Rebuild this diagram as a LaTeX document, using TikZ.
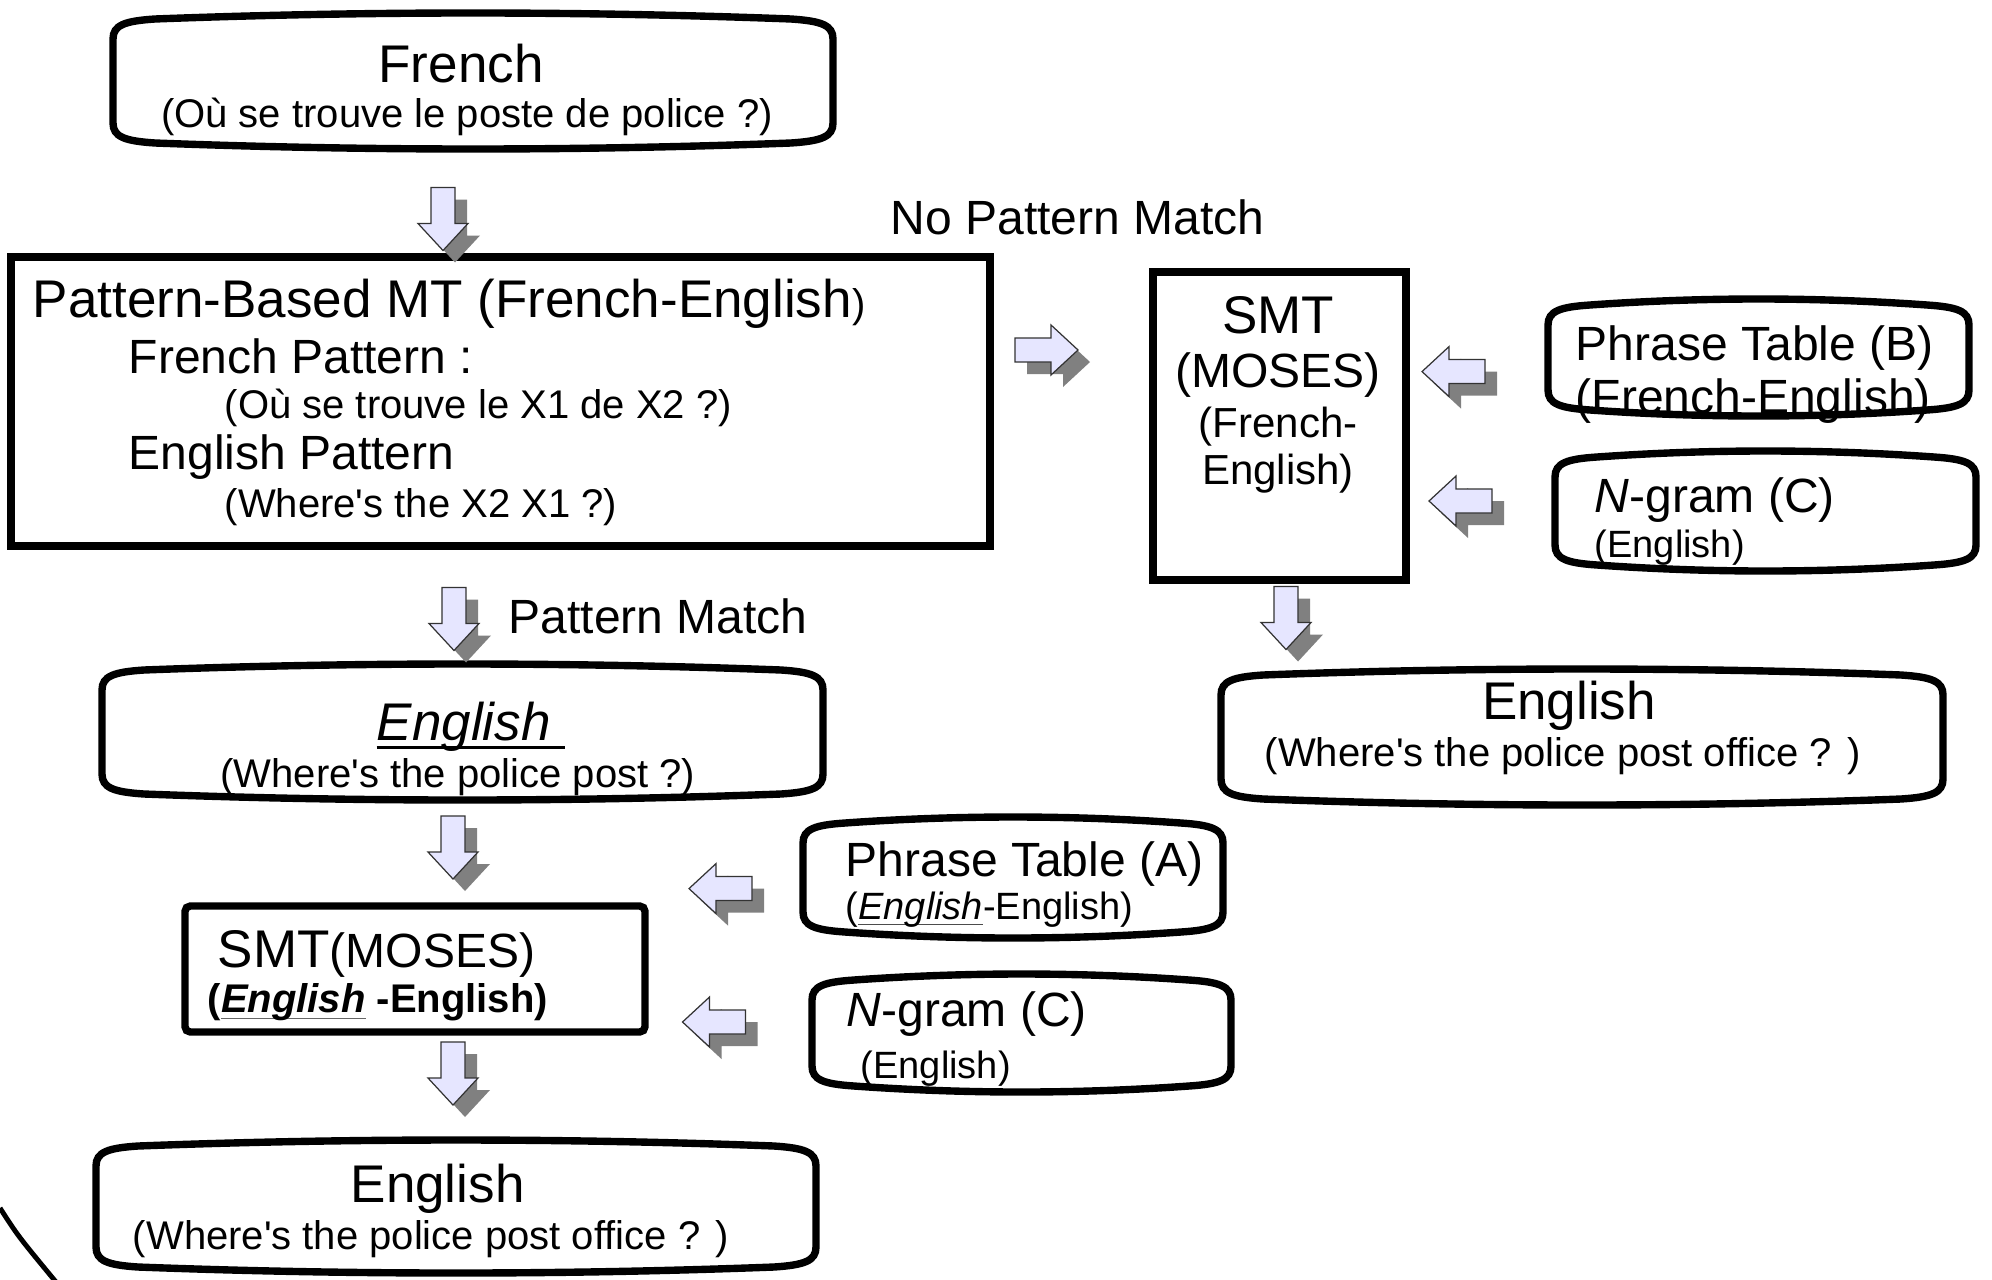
\documentclass[tikz,border=0pt]{standalone}
\usepackage{fontspec}
\setmainfont{Liberation Sans}
\usetikzlibrary{calc,fit}

\definecolor{arrowfill}{HTML}{E6E6FF}
\definecolor{arrowshade}{HTML}{808080}
\definecolor{arrowedge}{HTML}{333333}

% type sizes (1 unit of the picture = 0.01cm)
\newcommand\fbig{\fontsize{15.08pt}{18pt}\selectfont}
\newcommand\fmed{\fontsize{13.66pt}{16pt}\selectfont}
\newcommand\fsml{\fontsize{11.38pt}{14pt}\selectfont}
\newcommand\fsmt{\fontsize{11.95pt}{14pt}\selectfont}
\newcommand\fngr{\fontsize{10.81pt}{13pt}\selectfont}

% underlined word: #1 text, #2 rule thickness, #3 rule colour
\newcommand\ulword[3]{\leavevmode\setbox0=\hbox{#1}\rlap{\color{#3}\rule[-0.16em]{\wd0}{#2}}\box0\relax}

\tikzset{
  boxline/.style={draw=black, line width=2.1pt},
  rectbox/.style={draw=black, line width=2.1pt, inner sep=0pt},
  lbl/.style={inner sep=0pt, anchor=base west},
  clbl/.style={inner sep=0pt, anchor=base},
  arrowbody/.style={fill=arrowfill, draw=arrowedge, line width=0.35pt},
  arrowshadow/.style={fill=arrowshade},
}

% box with softly bowed top and bottom edges: name, x0, y0, x1, y1
\newcommand\capsule[5]{%
  \node[fit={(#2,#3) (#4,#5)}, inner sep=0pt] (#1) {};
  \draw[boxline]
    (#2,{#3+26}) .. controls (#2,{#3+12}) and ({#2+12},{#3+8}) .. ({#2+42},{#3+6})
    .. controls ({#2+42+(#4-#2-84)/3},{#3-2}) and ({#4-42-(#4-#2-84)/3},{#3-2}) .. ({#4-42},{#3+6})
    .. controls ({#4-12},{#3+8}) and (#4,{#3+12}) .. (#4,{#3+26})
    -- (#4,{#5-26})
    .. controls (#4,{#5-12}) and ({#4-12},{#5-8}) .. ({#4-42},{#5-6})
    .. controls ({#4-42-(#4-#2-84)/3},{#5+2}) and ({#2+42+(#4-#2-84)/3},{#5+2}) .. ({#2+42},{#5-6})
    .. controls ({#2+12},{#5-8}) and (#2,{#5-12}) .. (#2,{#5-26})
    -- cycle;
}

% block arrow with drop shadow: name, centre, direction angle
\newcommand\blockarrow[3]{%
  \coordinate (#1) at #2;
  \begin{scope}[shift={($(#1)+(12,12)$)}, rotate=#3]
    \fill[arrowshadow] (-31,-12) -- (5,-12) -- (5,-25) -- (32,0) -- (5,25) -- (5,12) -- (-31,12) -- cycle;
  \end{scope}
  \begin{scope}[shift={(#1)}, rotate=#3]
    \filldraw[arrowbody] (-31,-12) -- (5,-12) -- (5,-25) -- (32,0) -- (5,25) -- (5,12) -- (-31,12) -- cycle;
  \end{scope}
}

\begin{document}
\begin{tikzpicture}[x=0.01cm,y=-0.01cm]
\useasboundingbox (0,0) rectangle (1992,1279);

% boxes
\capsule{french}{113}{13}{833}{149}
\node[rectbox, fit={(11,257) (990,546)}] (pbmt) {};
\node[rectbox, fit={(1153,272) (1406,580)}] (smtfe) {};
\capsule{ptb}{1548}{299}{1969}{416}
\capsule{ngtop}{1555}{451}{1976}{571}
\capsule{engright}{1221}{669}{1943}{805}
\capsule{engleft}{102}{664}{823}{800}
\capsule{pta}{803}{817}{1223}{938}
\node[rectbox, rounded corners=1.5pt, fit={(185,906) (645,1032)}] (smtee) {};
\capsule{ngbot}{812}{974}{1231}{1092}
\capsule{engbot}{96}{1140}{816}{1273}

% border arc at the lower left
\draw[line width=1.4pt] (0,1208) .. controls (18,1236) .. (56,1282);

% texts
\node[clbl] (frT) at (461,82.6) {\fbig French};
\node[clbl] (frS) at (467,128) {\fsml (Où se trouve le poste de police ?)};

\node[lbl] (pbT) at (32,317.6) {\fbig Pattern-Based MT (French-English{\fsml )}};
\node[lbl] (pbF) at (128,373) {\fmed French Pattern :};
\node[lbl] (pbFs) at (224,418) {\fsml (Où se trouve le X1 de X2 ?)};
\node[lbl] (pbE) at (128,469) {\fmed English Pattern};
\node[lbl] (pbEs) at (224,517) {\fsml (Where\textquotesingle s the X2 X1 ?)};

\node[lbl] (nomatch) at (890,234) {\fmed No Pattern Match};

\node[clbl] (smt1) at (1278,333) {\fbig SMT};
\node[clbl] (smt2) at (1278,387) {\fmed (MOSES)};
\node[clbl] (smt3) at (1278,437) {\fsmt (French-};
\node[clbl] (smt4) at (1278,484) {\fsmt English)};

\node[lbl] (ptbT) at (1575,360) {\fmed Phrase Table (B)};
\node[lbl] (ptbS) at (1575,413.5) {\fmed (French-English)};

\node[lbl] (ngtT) at (1594,512.6) {\fmed \textit{N}-gram (C)};
\node[lbl] (ngtS) at (1594,557) {\fngr (English)};

\node[clbl] (erT) at (1569,719) {\fbig English};
\node[clbl] (erS) at (1562.6,766) {\fsml (Where\textquotesingle s the police post office ? )};

\node[lbl] (match) at (508,633) {\fmed Pattern Match};

\node[lbl] (elT) at (376,740.6) {\fbig \ulword{\itshape English\ }{0.8pt}{black}};
\node[clbl] (elS) at (458,787.6) {\fsml (Where\textquotesingle s the police post ?)};

\node[lbl] (ptaT) at (845,876) {\fmed Phrase Table (A)};
\node[lbl] (ptaS) at (845,919) {\fngr (\ulword{\itshape English}{0.35pt}{black!70}-English)};

\node[lbl] (smtbT) at (217,967) {{\fbig SMT}{\fmed (MOSES)}};
\node[lbl] (smtbS) at (207,1012.5) {\fsml\bfseries (\ulword{\itshape English}{0.35pt}{black!60} -English)};

\node[lbl] (ngbT) at (846,1026) {\fmed \textit{N}-gram (C)};
\node[lbl] (ngbS) at (860,1078) {\fngr (English)};

\node[clbl] (ebT) at (437.6,1202) {\fbig English};
\node[clbl] (ebS) at (430.7,1249) {\fsml (Where\textquotesingle s the police post office ? )};

% block arrows
\blockarrow{a1}{(443,218.5)}{-90}
\blockarrow{a2}{(1046,350)}{0}
\blockarrow{a3}{(1454,371.6)}{180}
\blockarrow{a4}{(1461,501)}{180}
\blockarrow{a5}{(1286,617.5)}{-90}
\blockarrow{a6}{(454,618.5)}{-90}
\blockarrow{a7}{(453,847)}{-90}
\blockarrow{a8}{(721,888.6)}{180}
\blockarrow{a9}{(714.5,1022)}{180}
\blockarrow{a10}{(453,1073)}{-90}
\end{tikzpicture}
\end{document}
